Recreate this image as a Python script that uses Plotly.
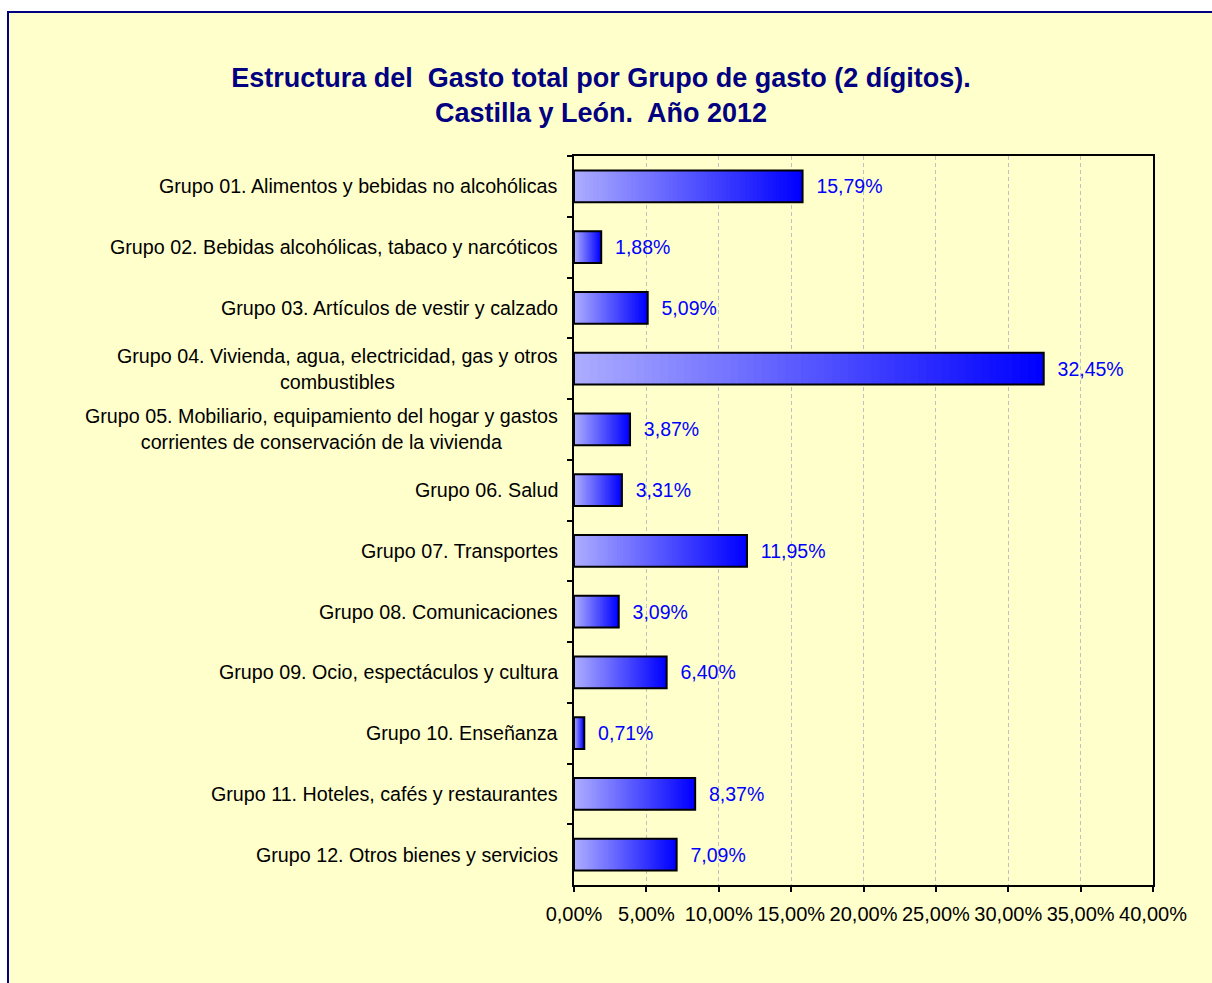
import plotly.graph_objects as go

# ---- data ----
categories = [
    "Grupo 01. Alimentos y bebidas no alcohólicas",
    "Grupo 02. Bebidas alcohólicas, tabaco y narcóticos",
    "Grupo 03. Artículos de vestir y calzado",
    "Grupo 04. Vivienda, agua, electricidad, gas y otros<br>combustibles",
    "Grupo 05. Mobiliario, equipamiento del hogar y gastos<br>corrientes de conservación de la vivienda",
    "Grupo 06. Salud",
    "Grupo 07. Transportes",
    "Grupo 08. Comunicaciones",
    "Grupo 09. Ocio, espectáculos y cultura",
    "Grupo 10. Enseñanza",
    "Grupo 11. Hoteles, cafés y restaurantes",
    "Grupo 12. Otros bienes y servicios",
]
values = [15.79, 1.88, 5.09, 32.45, 3.87, 3.31, 11.95, 3.09, 6.40, 0.71, 8.37, 7.09]
x_ticks = [0, 5, 10, 15, 20, 25, 30, 35, 40]
x_ticktext = [("%.2f%%" % v).replace(".", ",") for v in x_ticks]
title_text = "Estructura del  Gasto total por Grupo de gasto (2 dígitos).<br>Castilla y León.  Año 2012"

# ---- layout geometry (pixels) ----
W, H = 1212, 983
L, T = 574, 156
R = W - 1153
B = H - 885
pw, ph = W - L - R, H - T - B

fig = go.Figure()

# gradient fill: painter's approach, each segment runs to bar end
N = 60
c0 = (172, 172, 255)
c1 = (0, 0, 255)
for k in range(N):
    f = k / (N - 1)
    col = "rgb(%d,%d,%d)" % tuple(round(a + (b - a) * f) for a, b in zip(c0, c1))
    fig.add_trace(go.Bar(
        y=categories,
        x=[v * (1 - k / N) for v in values],
        base=[v * k / N for v in values],
        orientation="h",
        marker=dict(color=col, line=dict(width=0)),
        hoverinfo="skip",
        showlegend=False,
    ))

# outline + labels
fig.add_trace(go.Bar(
    y=categories,
    x=values,
    base=[0] * len(values),
    orientation="h",
    marker=dict(color="rgba(0,0,0,0)", line=dict(color="black", width=2)),
    texttemplate="\u00a0\u00a0%{x:.2f}%",
    textposition="outside",
    constraintext="none",
    cliponaxis=False,
    textfont=dict(family="Liberation Sans, Arial, sans-serif", size=19.5, color="#0000FF"),
    showlegend=False,
    hovertemplate="%{y}: %{x:.2f}%<extra></extra>",
))

# category labels as centered annotations
for c in categories:
    fig.add_annotation(
        x=0, xref="paper", y=c, yref="y",
        text=c, showarrow=False, xanchor="right", align="center",
        xshift=-14,
        font=dict(family="Liberation Sans, Arial, sans-serif", size=19.7, color="black"),
    )

# yellow chart area with navy border
fig.add_shape(
    type="rect", xref="paper", yref="paper", layer="below",
    x0=(8 - L) / pw, x1=(W + 5 - L) / pw,
    y0=-(B + 5) / ph, y1=(H - B - 12) / ph,
    fillcolor="#FFFFCC", line=dict(color="#000080", width=2),
)

fig.update_layout(
    width=W, height=H, autosize=False,
    margin=dict(l=L, r=R, t=T, b=B),
    paper_bgcolor="white",
    plot_bgcolor="white",
    barmode="overlay",
    bargap=0.48,
    separators=",.",
    font=dict(family="Liberation Sans, Arial, sans-serif", size=18, color="black"),
    title=dict(
        text=title_text,
        x=601 / W, xanchor="center",
        y=1 - 87 / H, yanchor="top", yref="container",
        font=dict(family="Liberation Sans, Arial, sans-serif", size=27, color="#000080", weight="bold"),
    ),
    xaxis=dict(
        range=[0, 40], tickvals=x_ticks, ticktext=x_ticktext,
        showgrid=True, gridcolor="#C0C0C0", griddash="4px,3px", gridwidth=1,
        zeroline=False,
        showline=True, linecolor="black", linewidth=2, mirror=True,
        ticks="outside", ticklen=5, tickwidth=2, tickcolor="black",
        ticklabelstandoff=5,
        tickfont=dict(size=20, color="black"),
    ),
    yaxis=dict(
        type="category", range=[len(categories) - 0.5, -0.5],
        showticklabels=False,
        showgrid=False, zeroline=False,
        showline=True, linecolor="black", linewidth=2, mirror=True,
        ticks="outside", tickson="boundaries", ticklen=5, tickwidth=2, tickcolor="black",
    ),
)

fig.write_html(
    "out.html",
    config={"displayModeBar": False},
    post_script="document.body.style.margin='0';document.body.style.overflow='hidden';",
)
